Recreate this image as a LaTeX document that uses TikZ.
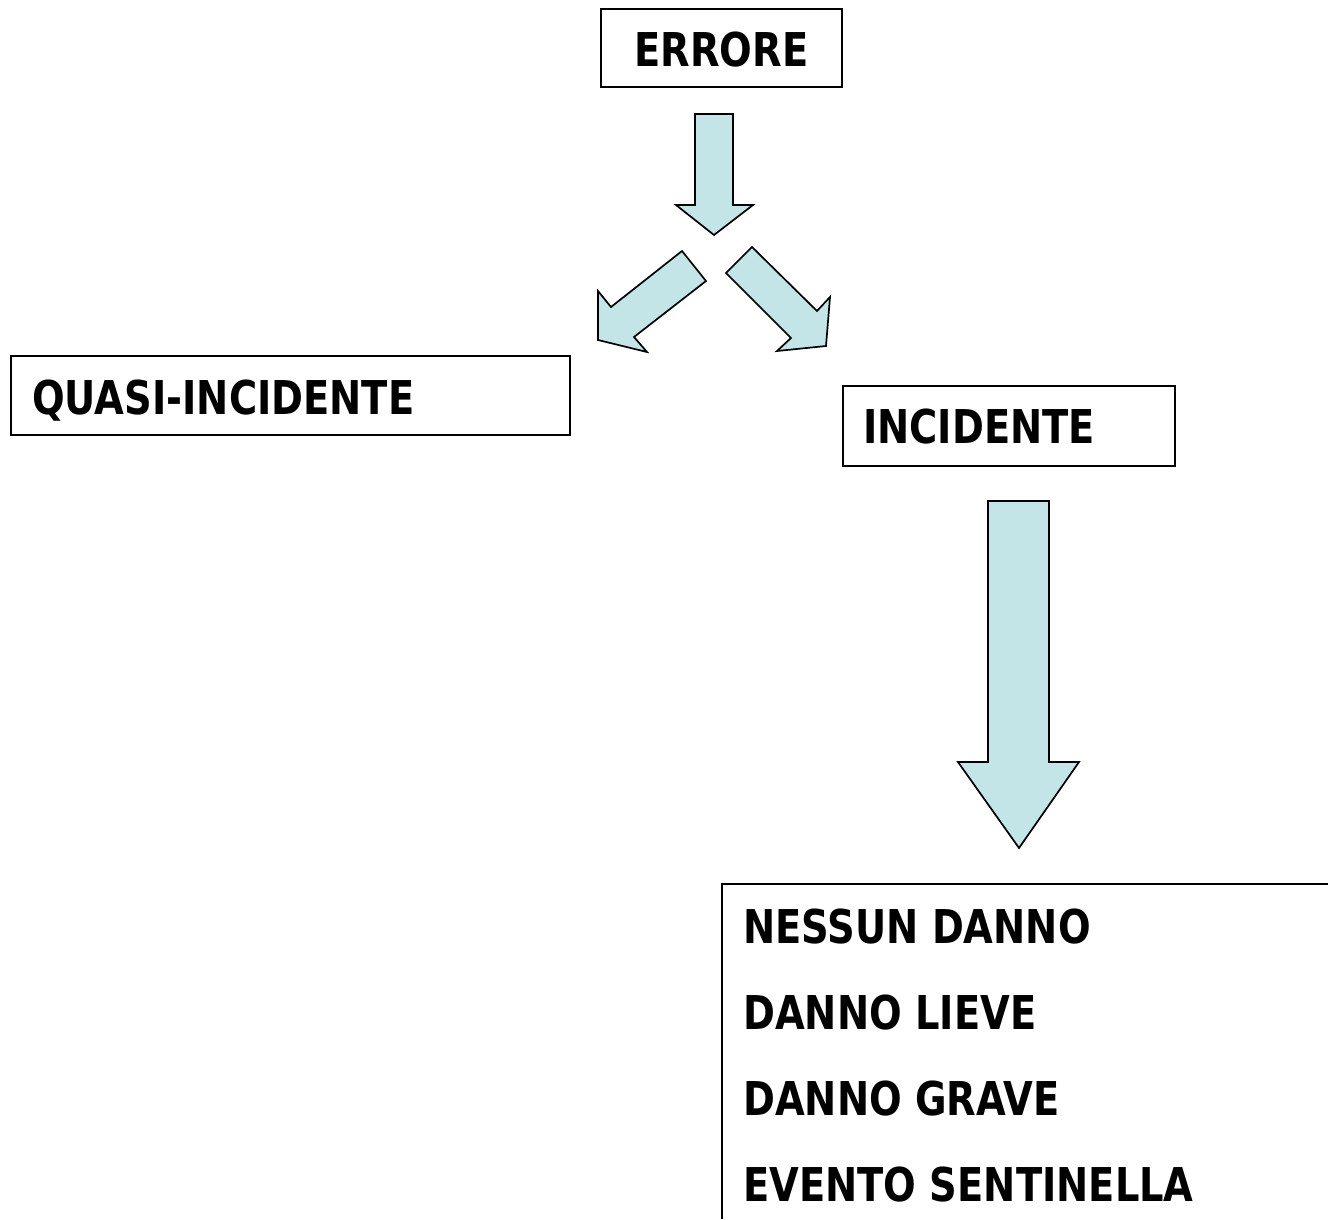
\documentclass[tikz,border=0pt]{standalone}
\usepackage{fontspec}
\newfontfamily\lblfont[FakeStretch=0.825]{DejaVu Sans}
\definecolor{arrowfill}{RGB}{196,229,232}
\begin{document}
\begin{tikzpicture}[x=1pt,y=-1pt,
  boxstyle/.style={draw=black, line width=2pt, inner sep=0pt},
  lbl/.style={font=\lblfont\bfseries\fontsize{46.6}{50}\selectfont, inner sep=0pt, text=black},
  blockarrow/.style={draw=black, line width=1.7pt, fill=arrowfill, line join=miter}]
\useasboundingbox[fill=white] (0,0) rectangle (1328,1219);

% boxes
\node[boxstyle, minimum width=241pt, minimum height=78pt] (errbox) at (721.5,48) {};
\node[lbl, anchor=base] (errT) at (721.5,66) {ERRORE};

\node[boxstyle, minimum width=559pt, minimum height=79pt] (quasibox) at (290.5,395.5) {};
\node[lbl, anchor=base west] (quasiT) at (32,414) {QUASI-INCIDENTE};

\node[boxstyle, minimum width=332pt, minimum height=80pt] (incbox) at (1009,426) {};
\node[lbl, anchor=base west] (incT) at (863,443) {INCIDENTE};

% list box (open to the right and bottom)
\coordinate (lbTR) at (1328,884);
\coordinate (lbTL) at (722,884);
\coordinate (lbBL) at (722,1219);
\draw[line width=2pt] (lbTR) -- (lbTL) -- (lbBL);
\node[lbl, anchor=base west] (l1) at (743,943) {NESSUN DANNO};
\node[lbl, anchor=base west] (l2) at (743,1029) {DANNO LIEVE};
\node[lbl, anchor=base west] (l3) at (743,1115) {DANNO GRAVE};
\node[lbl, anchor=base west] (l4) at (743,1201) {EVENTO SENTINELLA};

% block arrows
\draw[blockarrow] (695,114) -- (733,114) -- (733,205) -- (753,205) -- (714,235) -- (676,205) -- (695,205) -- cycle;
\draw[blockarrow] (682,251) -- (706,281) -- (634,337) -- (647,352) -- (598,340) -- (598,291) -- (611,307) -- cycle;
\draw[blockarrow] (752,247) -- (726,273) -- (791,338) -- (777,351) -- (826,346) -- (830,297) -- (817,311) -- cycle;
\draw[blockarrow] (988,501) -- (1049,501) -- (1049,762) -- (1079,762) -- (1019,848) -- (958,762) -- (988,762) -- cycle;
\end{tikzpicture}
\end{document}
